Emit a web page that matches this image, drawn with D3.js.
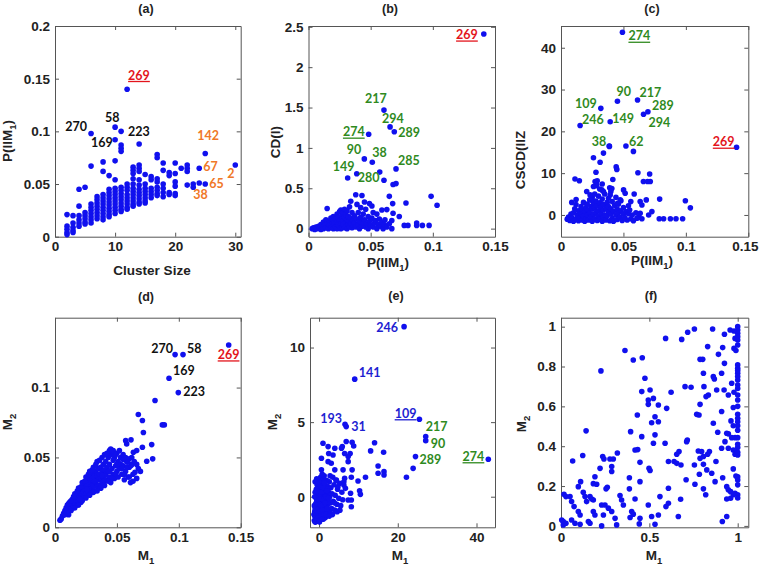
<!DOCTYPE html>
<html><head><meta charset="utf-8">
<script src="https://cdn.jsdelivr.net/npm/d3@7"></script>
<style>
body{margin:0;background:#fff;}
svg{display:block;}
.tick text{font-family:"Liberation Sans",Arial,sans-serif;font-weight:bold;font-size:13.5px;fill:#222;}
.ax{font-family:"Liberation Sans",Arial,sans-serif;font-weight:bold;font-size:13.5px;fill:#222;}
.ttl{font-family:"Liberation Sans",Arial,sans-serif;font-weight:bold;font-size:12.5px;fill:#222;}
.lbl{font-family:Lato,"Open Sans",sans-serif;font-weight:bold;font-size:12.5px;}
</style></head><body>
<svg id="c" width="761" height="572"></svg>
<script>
// ---------- data ----------
const ptsA = [
[2,0.021],[2,0.01],[2,0.007],[2,0.004],[2,0.002],
[3,0.02],[3,0.013],[3,0.009],[3,0.006],[3,0.004],
[4,0.045],[4,0.029],[4,0.02],[4,0.016],[4,0.013],[4,0.01],
[5,0.047],[5,0.023],[5,0.02],[5,0.017],[5,0.014],[5,0.012],
[6,0.098],[6,0.067],[6,0.031],[6,0.028],[6,0.025],[6,0.022],[6,0.019],[6,0.016],[6,0.013],
[7,0.038],[7,0.035],[7,0.032],[7,0.029],[7,0.026],[7,0.023],[7,0.02],[7,0.017],
[8,0.071],[8,0.062],[8,0.04],[8,0.037],[8,0.034],[8,0.031],[8,0.028],[8,0.025],[8,0.022],[8,0.019],[8,0.016],
[9,0.058],[9,0.045],[9,0.042],[9,0.039],[9,0.036],[9,0.033],[9,0.03],[9,0.027],[9,0.024],[9,0.021],[9,0.019],
[10,0.104],[10,0.092],[10,0.072],[10,0.054],[10,0.046],[10,0.043],[10,0.04],[10,0.037],[10,0.034],[10,0.031],[10,0.028],[10,0.025],[10,0.022],
[11,0.1],[11,0.087],[11,0.084],[11,0.081],[11,0.047],[11,0.044],[11,0.041],[11,0.038],[11,0.035],[11,0.032],[11,0.029],[11,0.026],[11,0.024],
[12,0.14],[12,0.05],[12,0.047],[12,0.044],[12,0.04],[12,0.037],[12,0.034],[12,0.031],[12,0.028],[12,0.026],
[13,0.066],[13,0.063],[13,0.06],[13,0.055],[13,0.05],[13,0.046],[13,0.043],[13,0.04],[13,0.037],[13,0.034],[13,0.031],[13,0.029],
[14,0.088],[14,0.068],[14,0.065],[14,0.062],[14,0.054],[14,0.049],[14,0.045],[14,0.042],[14,0.039],[14,0.036],[14,0.033],[14,0.031],
[15,0.059],[15,0.05],[15,0.046],[15,0.043],[15,0.04],[15,0.037],[15,0.034],[15,0.032],
[16,0.057],[16,0.054],[16,0.046],[16,0.043],[16,0.04],[16,0.037],
[17,0.078],[17,0.075],[17,0.055],[17,0.052],[17,0.047],[17,0.044],[17,0.041],[17,0.039],
[18,0.07],[18,0.063],[18,0.05],[18,0.046],[18,0.042],[18,0.038],
[19,0.061],[19,0.058],[19,0.042],[19,0.04],
[20,0.07],[20,0.06],[20,0.052],[20,0.048],[20,0.041],[20,0.039],
[21,0.065],[22,0.068],[22,0.065],[22,0.062],[22,0.049],
[23,0.05],[23,0.047],[24,0.065],[24,0.051],[25,0.079],[25,0.05],[30,0.068]
];
const ptsB = [
[0.003,0.0],[0.004,0.01],[0.005,-0.01],[0.006,0.02],[0.007,0.0],[0.008,0.03],[0.009,0.01],[0.01,0.05],[0.01,-0.01],[0.011,0.02],[0.012,0.08],[0.012,0.0],[0.013,0.04],[0.014,0.11],[0.014,0.01],[0.015,0.25],[0.015,0.06],[0.016,0.02],[0.016,0.0],[0.017,0.09],[0.017,0.04],[0.018,0.13],[0.018,0.01],[0.019,0.06],[0.019,0.02],[0.02,0.15],[0.02,0.1],[0.02,0.0],[0.021,0.04],[0.021,0.07],[0.022,0.12],[0.022,0.02],[0.023,0.18],[0.023,0.08],[0.023,0.0],[0.024,0.05],[0.024,0.14],[0.025,0.21],[0.025,0.1],[0.025,0.03],[0.026,0.23],[0.026,0.06],[0.026,0.0],[0.027,0.16],[0.027,0.12],[0.027,0.02],[0.028,0.2],[0.028,0.09],[0.028,0.05],[0.029,0.24],[0.029,0.14],[0.029,0.01],[0.03,0.18],[0.03,0.07],[0.03,0.03],[0.031,0.22],[0.031,0.11],[0.031,0.0],[0.032,0.15],[0.032,0.05],[0.033,0.27],[0.033,0.09],[0.033,0.02],[0.034,0.34],[0.034,0.13],[0.034,0.06],[0.035,0.2],[0.035,0.01],[0.036,0.1],[0.036,0.04],[0.037,0.16],[0.037,0.07],[0.038,0.42],[0.038,0.02],[0.039,0.3],[0.039,0.12],[0.04,0.05],[0.04,0.2],[0.041,0.09],[0.041,0.0],[0.042,0.26],[0.042,0.14],[0.043,0.41],[0.043,0.03],[0.044,0.18],[0.044,0.07],[0.045,0.33],[0.045,0.11],[0.046,0.02],[0.046,0.24],[0.047,0.06],[0.048,0.15],[0.048,0.0],[0.049,0.31],[0.049,0.09],[0.05,0.04],[0.051,0.28],[0.051,0.13],[0.052,0.2],[0.052,0.02],[0.053,0.07],[0.054,0.1],[0.055,0.0],[0.055,0.18],[0.056,0.05],[0.057,0.12],[0.058,0.03],[0.059,0.08],[0.06,0.0],[0.061,0.05],[0.063,0.02],[0.065,0.06],[0.067,0.0],
[0.059,0.23],[0.063,0.236],[0.0615,0.11],[0.067,0.1],[0.065,0.4],[0.0677,0.31],[0.068,0.19],[0.073,0.15],[0.0784,0.318],[0.0986,0.4],[0.1034,0.29],[0.077,0.04],[0.08,0.04],[0.087,0.04],[0.0916,0.04],[0.097,0.04],[0.087,0.07],
[0.141,2.41],[0.0607,1.468],[0.0656,1.26],[0.069,1.2],[0.0484,1.17],[0.0449,0.864],[0.0513,0.823],[0.0704,0.74],[0.0315,0.628],[0.0388,0.68],[0.0573,0.70],[0.0607,0.6],[0.068,0.546],[0.0704,0.558]
];
const ptsC = [
[0.005,-1.0],[0.006,-0.5],[0.007,-1.3],[0.008,0.2],[0.009,-0.8],[0.01,-1.5],[0.01,0.5],[0.011,1.5],[0.012,-1.0],[0.012,2.5],[0.013,0.0],[0.014,-1.4],[0.014,1.0],[0.015,-0.6],[0.016,2.0],[0.016,0.3],[0.017,-1.2],[0.017,1.3],[0.018,-0.2],[0.018,3.0],[0.019,0.8],[0.019,-1.5],[0.02,1.8],[0.02,-0.8],[0.021,0.0],[0.021,2.6],[0.022,-1.2],[0.022,1.1],[0.023,3.6],[0.023,0.4],[0.024,-0.5],[0.024,2.0],[0.025,-1.5],[0.025,1.4],[0.025,4.2],[0.026,0.1],[0.026,2.8],[0.027,-0.9],[0.027,5.0],[0.027,1.7],[0.028,0.6],[0.028,3.3],[0.028,7.0],[0.029,-1.3],[0.029,2.2],[0.029,8.2],[0.03,-0.3],[0.03,1.0],[0.03,4.5],[0.031,-1.0],[0.031,2.9],[0.031,6.2],[0.032,0.3],[0.032,1.8],[0.033,-1.5],[0.033,3.8],[0.033,7.4],[0.034,-0.5],[0.034,1.2],[0.034,2.5],[0.035,0.0],[0.035,5.0],[0.036,-1.2],[0.036,1.6],[0.037,3.0],[0.037,-0.2],[0.038,0.8],[0.038,2.0],[0.039,-1.4],[0.039,6.5],[0.04,0.3],[0.04,1.5],[0.041,-0.8],[0.041,3.2],[0.042,0.9],[0.042,-1.5],[0.043,2.3],[0.044,0.0],[0.044,4.2],[0.045,-1.1],[0.045,1.4],[0.046,0.5],[0.046,2.6],[0.047,-0.6],[0.048,1.0],[0.048,3.4],[0.049,-1.3],[0.05,0.2],[0.05,1.8],[0.051,-0.7],[0.052,0.8],[0.053,-1.2],[0.054,0.3],[0.055,1.2],[0.056,-0.9],[0.057,0.0],[0.058,-1.4],[0.06,0.5],[0.062,-0.6],
[0.0388,16.4],[0.058,15.2],[0.034,14.8],[0.026,13.7],[0.0313,12.6],[0.028,10.2],[0.0442,11.5],[0.0447,10.9],[0.0616,10.1],[0.071,9.8],[0.066,8.0],[0.0693,8.0],[0.0715,8.0],[0.0112,8.6],[0.0147,8.2],[0.0415,8.5],[0.0273,8.0],[0.0286,7.2],[0.026,6.8],[0.0327,6.0],[0.034,5.6],[0.0407,6.3],[0.0399,5.6],[0.0501,6.0],[0.0514,5.2],[0.0586,5.0],[0.079,3.8],[0.0996,3.4],[0.1036,1.7],[0.0121,3.7],[0.0086,3.0],[0.0206,5.6],[0.0233,4.8],[0.0246,3.6],[0.0394,4.8],[0.038,4.0],[0.0474,3.6],[0.0453,2.8],[0.0559,3.2],[0.054,2.2],[0.0634,3.2],[0.0648,2.4],[0.0683,3.6],[0.0728,0.8],[0.0702,0.0],[0.0634,0.4],[0.0608,-0.8],[0.0648,-0.9],[0.0787,-0.9],[0.0822,-0.9],[0.0876,-0.9],[0.0921,-0.9],[0.0974,-0.9],
[0.0492,43.7],[0.0452,27.2],[0.0613,27.5],[0.0319,25.5],[0.0696,24.7],[0.0661,24.1],[0.0394,22.3],[0.0153,21.4],[0.0386,16.5],[0.052,16.5],[0.1406,16.2]
];
const ptsD = [
[0.004,0.005],[0.005,0.006],[0.006,0.008],[0.007,0.01],[0.008,0.009],[0.008,0.012],[0.009,0.011],[0.01,0.013],[0.01,0.016],[0.011,0.012],[0.012,0.015],[0.012,0.018],[0.013,0.014],[0.013,0.017],[0.014,0.016],[0.014,0.02],[0.015,0.018],[0.015,0.014],[0.016,0.021],[0.016,0.017],[0.017,0.019],[0.017,0.023],[0.018,0.016],[0.018,0.021],[0.019,0.024],[0.019,0.019],[0.02,0.022],[0.02,0.026],[0.021,0.018],[0.021,0.024],[0.022,0.028],[0.022,0.021],[0.023,0.025],[0.023,0.03],[0.024,0.022],[0.024,0.027],[0.025,0.031],[0.025,0.024],[0.026,0.029],[0.026,0.033],[0.027,0.025],[0.027,0.03],[0.028,0.035],[0.028,0.027],[0.029,0.032],[0.029,0.037],[0.03,0.028],[0.03,0.034],[0.031,0.039],[0.031,0.03],[0.032,0.036],[0.032,0.026],[0.033,0.032],[0.033,0.04],[0.034,0.029],[0.034,0.037],[0.035,0.034],[0.035,0.042],[0.036,0.03],[0.036,0.038],[0.037,0.035],[0.037,0.043],[0.038,0.032],[0.038,0.04],[0.039,0.036],[0.039,0.045],[0.04,0.033],[0.04,0.041],[0.041,0.038],[0.041,0.047],[0.042,0.034],[0.042,0.043],[0.043,0.04],[0.043,0.05],[0.044,0.036],[0.044,0.045],[0.045,0.032],[0.045,0.052],[0.046,0.042],[0.046,0.054],[0.047,0.038],[0.047,0.048],[0.048,0.035],[0.048,0.05],[0.049,0.044],[0.05,0.04],[0.05,0.053],[0.051,0.036],[0.051,0.047],[0.052,0.042],[0.053,0.05],[0.054,0.038],[0.055,0.044],[0.056,0.034],[0.057,0.04],[0.058,0.047],[0.059,0.036],[0.06,0.043],[0.061,0.032],[0.062,0.045],[0.063,0.038],
[0.009,0.014],[0.011,0.017],[0.013,0.019],[0.015,0.022],[0.016,0.024],[0.018,0.026],[0.019,0.028],[0.021,0.029],[0.022,0.032],[0.024,0.033],[0.025,0.036],[0.027,0.038],[0.028,0.04],[0.03,0.041],[0.031,0.043],[0.033,0.045],[0.034,0.047],[0.036,0.048],[0.038,0.05],[0.04,0.052],[0.042,0.053],[0.044,0.055],[0.045,0.056],[0.047,0.055],[0.049,0.052],[0.052,0.055],[0.055,0.052],[0.057,0.05],[0.06,0.049],[0.062,0.05],[0.064,0.047],[0.066,0.045],[0.058,0.043],[0.053,0.045],[0.049,0.038],[0.046,0.035],[0.043,0.033],[0.04,0.03],[0.037,0.028],[0.034,0.026],[0.031,0.025],[0.028,0.023],[0.025,0.021],[0.022,0.019],[0.019,0.016],[0.016,0.014],[0.013,0.012],[0.011,0.009],[0.02,0.02],[0.026,0.027],[0.032,0.033],[0.038,0.037],[0.044,0.04],[0.05,0.045],[0.054,0.042],[0.056,0.038],[0.06,0.036],[0.063,0.033],[0.066,0.035],[0.069,0.04],
[0.0808,0.0907],[0.0673,0.0807],[0.0706,0.0764],[0.0867,0.0733],[0.0883,0.0733],[0.0714,0.0678],[0.0571,0.062],[0.0614,0.0626],[0.0579,0.0597],[0.0781,0.0592],[0.0706,0.0573],[0.066,0.0549],[0.0633,0.0537],[0.0741,0.0473],[0.0789,0.049],[0.0673,0.042],[0.0646,0.0394],[0.0552,0.0483],[0.0614,0.0442],[0.0587,0.0466],
[0.097,0.1236],[0.1034,0.1236],[0.1403,0.1305],[0.0921,0.1067],[0.0996,0.0964]
];
const ptsE = [
[-1.2,-1.6],[-1.0,-1.7],[-0.9,-1.3],[-0.8,-1.5],[-1.1,-1.0],[-0.7,-0.9],[-0.6,-1.6],[-0.5,-1.2],[-0.9,-0.5],[-0.4,-0.7],[-0.3,-1.4],[-0.2,-1.0],[-0.6,-0.2],[-0.1,-0.4],[0.0,-1.6],[0.1,-0.8],[0.2,-1.2],[-0.3,0.2],[0.3,-0.3],[0.4,-1.5],[0.5,-0.9],[0.0,0.5],[0.6,0.0],[0.7,-1.1],[0.8,-0.5],[-0.5,0.8],[0.2,1.0],[0.9,0.4],[1.0,-1.3],[1.1,-0.7],[0.4,1.3],[1.2,0.1],[1.3,-1.0],[1.4,-0.3],[0.7,0.9],[1.5,0.6],[1.6,-1.4],[1.7,-0.6],[1.0,1.2],[1.8,0.2],[1.9,-1.0],[2.0,-0.2],[1.3,1.4],[2.1,0.7],[2.2,-1.2],[2.3,-0.5],[2.4,0.3],[2.5,-0.9],[2.6,1.0],[2.7,0.0],[2.8,-1.1],[2.9,-0.4],[3.0,0.6],[3.2,-0.8],[3.3,0.2],[3.5,1.3],[3.6,-0.3],[3.8,0.8],[4.0,-0.9],[4.1,0.1],[4.3,1.1],[4.5,-0.5],[4.7,0.5],[5.0,-0.1],[5.2,0.9],[5.5,-0.6],[5.8,0.3],[6.0,-0.2],[6.3,1.0],[-0.8,0.0],[-1.0,0.3],[-0.4,-0.1],[0.3,0.3],[-0.2,0.6],[0.5,0.7],[-0.6,-1.0],[0.1,-1.4],[0.6,-1.4],[1.1,-1.5],[-1.1,-1.3],[-0.2,-1.6],[0.9,-0.1],[1.6,0.4],[2.2,0.5],[0.3,-0.6],[1.5,-0.9],[-0.7,0.5],[0.8,1.5],[-0.1,1.0],[1.9,1.1],[2.8,1.4],[3.4,-1.2],[4.6,-1.0],[5.3,-0.9],[3.9,-0.4],
[-1.3,-1.2],[-1.2,-0.6],[-1.1,0.0],[-1.0,-0.8],[-0.9,-1.7],[-0.8,-1.1],[-0.7,-0.4],[-0.5,-1.5],[-0.4,-1.0],[-0.3,-0.5],[-0.2,-1.3],[-0.1,-0.8],[0.0,-1.1],[0.0,-0.2],[0.1,-1.7],[0.2,-0.5],[0.3,-1.0],[0.4,-0.1],[0.5,-1.3],[0.6,-0.6],[0.7,0.3],[0.8,-1.5],[0.9,-0.9],[1.0,0.6],[1.1,-0.2],[1.2,-1.2],[1.4,0.9],[1.5,-0.4],[1.7,0.0],[1.8,-1.2],[2.0,0.4],[2.1,-0.8],[2.4,-0.1],[2.6,-1.3],[-0.6,1.2],[-1.0,1.0],[0.1,0.2],[-0.4,0.4],[0.5,0.3],
[23.9,1.9],[22.2,1.3],[16.5,1.68],[16.5,1.46],[15,1.57],[15,2.06],[14.1,3.62],[13.1,3.07],[16.4,2.98],[11.8,1.3],[9.9,1.05],[8.4,3.65],[8.8,3.4],[7.9,2.9],[7.4,2.35],[8.4,1.8],[8.2,1.3],[10.3,0.4],[10.5,0.16],[6.5,2.9],[5.7,3.25],[5.9,3.36],[6.9,3.7],[7.4,2.7],[6.1,1.8],[6.5,1.23],[6.3,0.79],[6.7,0.56],[8.2,-0.22],[8.2,-0.67],[8.0,0.23],[7.4,-0.22],[4.0,3.25],[3.55,2.8],[3.1,2.24],[4.0,1.8],[4.4,1.12],[4.8,0.67],[2.3,3.36],[2.45,2.9],[2.3,2.35],[1.0,3.58],[0.6,2.58],[0.6,1.8],
[21.6,11.4],[9.06,7.88],[6.6,4.85],[6.9,4.7],[25.5,5.19],[27.1,4.03],[27.1,3.76],[24.5,2.69],[43.0,2.51]
];
const ptsF = [
[1,1],[1,0.983],[1,0.967],[0.979,0.978],[0.957,0.983],[0.925,0.962],[0.858,0.988],[0.755,0.988],[0.717,0.972],
[0.683,0.936],[0.592,0.941],[1,0.933],[0.985,0.941],[1,0.908],[0.979,0.891],[0.915,0.895],[0.83,0.9],[0.362,0.88],
[0.891,0.861],[0.802,0.836],[0.787,0.836],[0.409,0.833],[0.46,0.844],[1,0.808],[1,0.791],[0.925,0.816],[0.226,0.778],[0.806,0.766],[0.909,0.766],[1,0.766],
[0.862,0.749],[0.868,0.737],[0.475,0.741],[1,0.732],[1,0.707],[0.966,0.716],[0.702,0.699],[0.736,0.696],[0.809,0.699],[0.881,0.682],[0.923,0.682],[0.457,0.674],[0.504,0.682],[0.623,0.671],[0.979,0.671],
[0.834,0.657],[0.821,0.649],[1,0.657],[0.947,0.657],[0.494,0.632],[0.523,0.64],[1,0.632],[0.494,0.61],[0.551,0.607],[0.598,0.59],[0.787,0.61],[0.975,0.594],[0.909,0.574],[0.768,0.56],[0.781,0.557],[1,0.56],[0.432,0.557],[0.532,0.548],
[1,0.523],[0.962,0.527],[0.862,0.515],[0.513,0.518],[0.551,0.523],[0.975,0.503],[1,0.503],[0.394,0.473],[0.887,0.47],[0.938,0.465],[0.947,0.462],[0.966,0.443],[1,0.443],[0.985,0.443],[0.457,0.448],[0.532,0.457],[0.142,0.477],
[0.715,0.431],[0.711,0.423],[0.589,0.415],[0.523,0.415],[0.419,0.381],[0.434,0.383],[0.928,0.423],[1,0.393],[0.947,0.39],[0.975,0.381],[0.909,0.39],[0.777,0.376],[0.796,0.373],[0.84,0.373],[0.668,0.373],[0.655,0.36],
[1,0.356],[0.985,0.36],[0.83,0.36],[0.806,0.348],[0.787,0.339],[0.608,0.323],[0.64,0.323],[0.655,0.314],[0.679,0.306],[0.447,0.319],[0.236,0.348],[0.243,0.336],[0.277,0.336],[0.296,0.336],[0.066,0.326],[0.123,0.353],[0.975,0.286],[0.806,0.309],[0.825,0.281],[0.877,0.323],[0.755,0.306],[0.853,0.264],[0.287,0.298],[0.221,0.289],[0.319,0.366],[0.498,0.289],[0.504,0.278],
[1,0.247],[1,0.231],[1,0.206],[0.938,0.197],[0.947,0.181],[0.96,0.172],[0.985,0.164],[0.783,0.259],[0.806,0.186],[0.819,0.156],[0.872,0.222],[0.915,0.242],[0.758,0.209],[0.708,0.232],[0.608,0.189],[0.447,0.222],[0.387,0.242],[0.387,0.186],[0.262,0.194],[0.255,0.186],[0.183,0.212],[0.202,0.209],[0.111,0.222],[0.098,0.197],[0.017,0.159],[0.028,0.147],[0.192,0.247],[0.287,0.273],
[1,0.156],[0.975,0.156],[0.96,0.139],[0.938,0.135],[0.56,0.147],[0.608,0.114],[0.594,0.097],[0.677,0.134],[0.494,0.105],[0.419,0.135],[0.4,0.072],[0.409,0.059],[0.447,0.038],[0.334,0.152],[0.343,0.13],[0.353,0.105],[0.268,0.089],[0.249,0.105],[0.23,0.105],[0.183,0.13],[0.164,0.147],[0.174,0.135],[0.051,0.147],[0.06,0.122],[0.074,0.097],[0.126,0.169],[0.136,0.147],[0.145,0.122],[0.098,0.072],[0.108,0.055],[0.183,0.072],[0.192,0.055],[0.24,0.055],[0.306,0.038],[0.287,0.072],[0.391,0.042],[0.513,0.047],[0.551,0.055],[0.664,0.047],[0.938,0.047],
[0.004,0.03],[0.013,0.022],[0.013,0.005],[0.028,0.013],[0.06,0.03],[0.079,0.013],[0.108,0.008],[0.155,0.022],[0.164,0.013],[0.23,0],[0.315,0.005],[0.443,0.01],[0.532,0.008],[0.913,0.022],
[1,0.95],[1,0.78],[1,0.75],[1,0.69],[1,0.6],[1,0.54],[1,0.48],[1,0.41],[1,0.37],[1,0.14],[0.99,0.88],[0.99,0.25]
];

const ticksA = {x:[0,10,20,30], y:[0,0.05,0.1,0.15,0.2]};
const ticksB = {x:[0,0.05,0.1,0.15], y:[0,0.5,1,1.5,2,2.5]};
const ticksC = {x:[0,0.05,0.1,0.15], y:[0,10,20,30,40]};
const ticksD = {x:[0,0.05,0.1,0.15], y:[0,0.05,0.1]};
const ticksE = {x:[0,20,40], y:[0,5,10]};
const ticksF = {x:[0,0.5,1], y:[0,0.2,0.4,0.6,0.8,1]};

// label text, anchor point (data units), colour key, underline
const labelsA = [["269",12,0.14,"r",1],["270",6,0.098,"k",0],["58",10,0.104,"k",0],["169",10,0.092,"k",0],["223",11,0.1,"k",0],
  ["142",25,0.079,"o",0],["67",24,0.065,"o",0],["2",30,0.068,"o",0],["65",25,0.05,"o",0],["38",23,0.047,"o",0]];
const labelsB = [["269",0.141,2.41,"r",1],["217",0.0607,1.468,"g",0],["294",0.0656,1.26,"g",0],["289",0.069,1.2,"g",0],["274",0.0484,1.17,"g",1],
  ["90",0.0449,0.864,"g",0],["38",0.0513,0.823,"g",0],["285",0.0704,0.74,"g",0],["149",0.0315,0.628,"g",0],["280",0.0388,0.68,"g",0]];
const labelsC = [["274",0.0492,43.7,"g",1],["90",0.0452,27.2,"g",0],["217",0.0613,27.5,"g",0],["109",0.0319,25.5,"g",0],["289",0.0696,24.7,"g",0],
  ["294",0.0661,24.1,"g",0],["149",0.0394,22.3,"g",0],["246",0.0153,21.4,"g",0],["38",0.0386,16.5,"g",0],["62",0.052,16.5,"g",0],["269",0.1406,16.2,"r",1]];
const labelsD = [["270",0.097,0.1236,"k",0],["58",0.1034,0.1236,"k",0],["269",0.1403,0.1305,"r",1],["169",0.0921,0.1067,"k",0],["223",0.0996,0.0964,"k",0]];
const labelsE = [["246",21.6,11.4,"b",0],["141",9.06,7.88,"b",0],["193",6.6,4.85,"b",0],["31",6.9,4.7,"b",0],["109",25.5,5.19,"b",1],
  ["217",27.1,4.03,"g",0],["90",27.1,3.76,"g",0],["289",24.5,2.69,"g",0],["274",43.0,2.51,"g",1]];

// ---------- layout (pixel offsets of label text from its point: [dx, dy, anchor]) ----------
const offA = [[1,-9.7,"start"],[-4,-2,"end"],[-10,-5,"start"],[-24,7,"start"],[7,5,"start"],[-8,-13,"start"],[4,3,"start"],[-8,13,"start"],[4,4,"start"],[0,12,"start"]];
const offB = [[-6,5,"end"],[-19,-7,"start"],[-8,-4,"start"],[4,5,"start"],[-4,2,"end"],[-3,-5,"end"],[0,-5,"start"],[2,-4,"start"],[-15,-7,"start"],[1,8,"start"]];
const offC = [[6,8,"start"],[-1,-5,"start"],[2,-3,"start"],[-4,0,"end"],[4,-1.5,"start"],[5,12.5,"start"],[2,1,"start"],[2,-1,"start"],[-3,0,"end"],[3,0,"start"],[-2,-1,"end"]];
const offD = [[-2,-2,"end"],[4,-2,"start"],[-11,14,"start"],[4,-3,"start"],[5,3,"start"]];
const offE = [[-6,5,"end"],[4,-2,"start"],[-3,-1,"end"],[5,4,"start"],[-3,-1.5,"end"],[0,-6,"start"],[5,7,"start"],[4,7.5,"start"],[-4,1.5,"end"]];

const COL = {r:"#e3141c", k:"#111111", o:"#f07828", g:"#2f8a1e", b:"#1e1ed2"};
const DOT = "#1010ee";

const svg = d3.select("#c");

function panel(cfg){
  const x = d3.scaleLinear().domain(cfg.xd).range(cfg.xr);
  const y = d3.scaleLinear().domain(cfg.yd).range(cfg.yr);
  const g = svg.append("g");
  const fmt = d => String(d);
  const axes = [
    [d3.axisBottom(x).tickValues(cfg.t.x).tickFormat(fmt).tickPadding(5), `translate(0,${cfg.yr[0]})`],
    [d3.axisTop(x).tickValues(cfg.t.x).tickFormat(""), `translate(0,${cfg.yr[1]})`],
    [d3.axisLeft(y).tickValues(cfg.t.y).tickFormat(fmt).tickPadding(5), `translate(${cfg.xr[0]},0)`],
    [d3.axisRight(y).tickValues(cfg.t.y).tickFormat(""), `translate(${cfg.xr[1]},0)`]
  ];
  axes.forEach(([ax,tr]) => {
    const a = g.append("g").attr("transform", tr).call(ax.tickSizeInner(-4).tickSizeOuter(0));
    a.select(".domain").attr("stroke","#555").attr("stroke-width",1);
    a.selectAll(".tick line").attr("stroke","#555");
    a.selectAll(".tick text").attr("font-family",null).attr("font-size",null);
    // keep tick labels inside the window
    a.selectAll(".tick text").each(function(){
      const bb = this.getBBox();
      const tickX = +this.parentNode.getAttribute("transform").match(/translate\(([-\d.]+)/)[1];
      const right = tickX + bb.x + bb.width + (+tr.match(/translate\(([-\d.]+)/)[1]);
      if (right > 759) d3.select(this).attr("dx", (759 - right) + "px");
    });
  });
  g.append("g").selectAll("circle").data(cfg.pts).join("circle")
    .attr("cx", d => x(d[0])).attr("cy", d => y(d[1])).attr("r", 2.8).attr("fill", DOT);
  (cfg.labels||[]).forEach((L,i) => {
    const o = cfg.off[i];
    const t = g.append("text").attr("class","lbl")
      .attr("x", x(L[1]) + o[0]).attr("y", y(L[2]) + o[1])
      .attr("text-anchor", o[2]).attr("fill", COL[L[3]]).text(L[0]);
    if (L[4]) {
      const bb = t.node().getBBox();
      g.append("line").attr("x1", bb.x).attr("x2", bb.x + bb.width)
        .attr("y1", y(L[2]) + o[1] + 2).attr("y2", y(L[2]) + o[1] + 2)
        .attr("stroke", COL[L[3]]).attr("stroke-width", 1.3);
    }
  });
  svg.append("text").attr("class","ttl").attr("x",cfg.title[1]).attr("y",cfg.title[2])
    .attr("text-anchor","middle").text(cfg.title[0]);
  const xl = svg.append("text").attr("class","ax").attr("x",cfg.xl[1]).attr("y",cfg.xl[2]).attr("text-anchor","middle");
  addLabel(xl, cfg.xl[0]);
  const yl = svg.append("text").attr("class","ax").attr("text-anchor","middle")
    .attr("transform",`translate(${cfg.yl[1]},${cfg.yl[2]}) rotate(-90)`);
  addLabel(yl, cfg.yl[0]);
}
function addLabel(sel, parts){
  parts.forEach(p => {
    if (typeof p === "string") sel.append("tspan").text(p);
    else sel.append("tspan").attr("dy", p.dy).attr("font-size", p.fs||null).text(p.t);
  });
}
const PIIM = ["P(IIM", {t:"1", dy:4, fs:"9.5px"}, {t:")", dy:-4}];
const M1 = ["M", {t:"1", dy:4, fs:"9.5px"}];
const M2 = ["M", {t:"2", dy:4, fs:"9.5px"}];

panel({pts:ptsA, t:ticksA, xd:[0,30.9], yd:[0,0.2], xr:[55,240.7], yr:[236.7,26],
  labels:labelsA, off:offA, title:["(a)",146,13], xl:[["Cluster Size"],152,275], yl:[PIIM,12,141]});
panel({pts:ptsB, t:ticksB, xd:[0,0.15], yd:[-0.1,2.51], xr:[308.5,495], yr:[236.7,26],
  labels:labelsB, off:offB, title:["(b)",390,13], xl:[PIIM,388,267], yl:[["CD(I)"],280,142]});
panel({pts:ptsC, t:ticksC, xd:[0,0.15], yd:[-5.2,45.2], xr:[561,748.3], yr:[236.7,26],
  labels:labelsC, off:offC, title:["(c)",652,13], xl:[PIIM,652,265], yl:[["CSCD(IIZ"],525,160]});
panel({pts:ptsD, t:ticksD, xd:[0,0.15], yd:[0,0.15], xr:[55,240.7], yr:[527.3,317.7],
  labels:labelsD, off:offD, title:["(d)",146,301], xl:[M1,146,560], yl:[M2,12,422]});
panel({pts:ptsE, t:ticksE, xd:[-2.3,44.7], yd:[-2.05,12.0], xr:[310,495], yr:[527.3,317.7],
  labels:labelsE, off:offE, title:["(e)",396,300], xl:[M1,400,560], yl:[M2,277,422]});
panel({pts:ptsF, t:ticksF, xd:[0,1.06], yd:[-0.007,1.045], xr:[561,748.3], yr:[527.3,317.7],
  labels:[], off:[], title:["(f)",651,300], xl:[M1,654,560], yl:[M2,526,424]});
</script>
</body></html>
